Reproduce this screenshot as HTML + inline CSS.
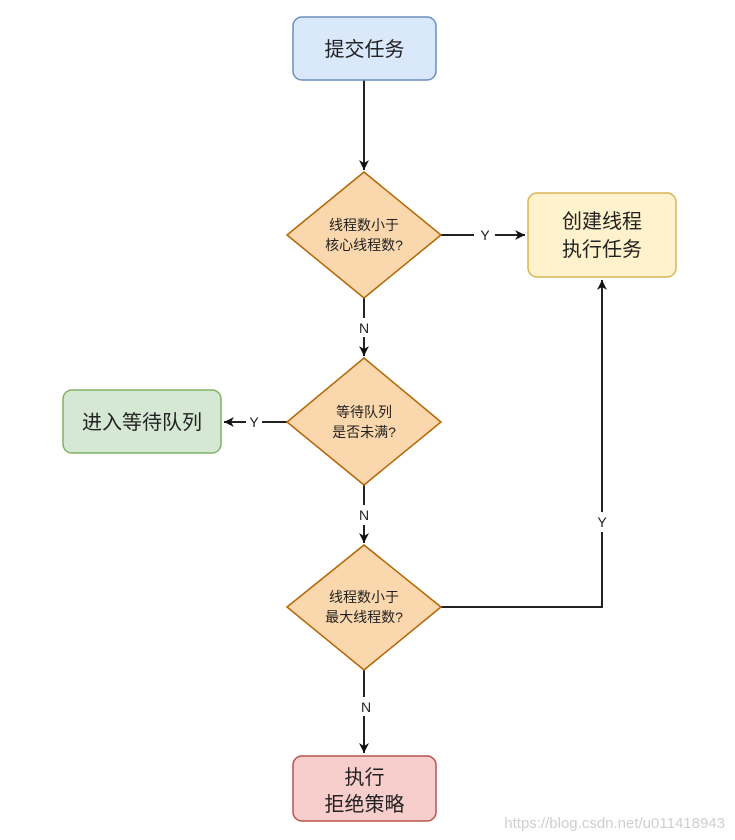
<!DOCTYPE html>
<html><head><meta charset="utf-8"><style>
html,body{margin:0;padding:0;background:#fff;}
svg{display:block;}
text{font-family:"Liberation Sans","Noto Sans CJK SC",sans-serif;fill:#222;}
</style></head><body>
<svg width="735" height="840" viewBox="0 0 735 840" xmlns="http://www.w3.org/2000/svg">
<defs>
<marker id="ah" markerWidth="12" markerHeight="12" refX="10" refY="6" orient="auto" markerUnits="userSpaceOnUse">
<path d="M0,1 L10,6 L0,11 L3,6 Z" fill="#111"/>
</marker>
</defs>
<g stroke="#222" stroke-width="2" fill="none">
<line x1="364" y1="80" x2="364" y2="170" marker-end="url(#ah)"/>
<line x1="441" y1="235" x2="474" y2="235"/>
<line x1="495" y1="235" x2="525" y2="235" marker-end="url(#ah)"/>
<line x1="364" y1="298" x2="364" y2="318"/>
<line x1="364" y1="337" x2="364" y2="356" marker-end="url(#ah)"/>
<line x1="287" y1="422" x2="262" y2="422"/>
<line x1="246" y1="422" x2="224" y2="422" marker-end="url(#ah)"/>
<line x1="364" y1="485" x2="364" y2="505"/>
<line x1="364" y1="525" x2="364" y2="543" marker-end="url(#ah)"/>
<polyline points="441,607 602,607 602,532"/>
<line x1="602" y1="512" x2="602" y2="280" marker-end="url(#ah)"/>
<line x1="364" y1="670" x2="364" y2="697"/>
<line x1="364" y1="716" x2="364" y2="753" marker-end="url(#ah)"/>
</g>
<g font-size="14">
<text x="485" y="240" text-anchor="middle">Y</text>
<text x="364" y="333" text-anchor="middle">N</text>
<text x="254" y="427" text-anchor="middle">Y</text>
<text x="364" y="520" text-anchor="middle">N</text>
<text x="602" y="527" text-anchor="middle">Y</text>
<text x="366" y="712" text-anchor="middle">N</text>
</g>
<rect x="293" y="17" width="143" height="63" rx="9" fill="#dae8fc" stroke="#6c8ebf" stroke-width="1.5"/>
<text x="364.5" y="56" font-size="20" text-anchor="middle">提交任务</text>
<polygon points="364,172 441,235 364,298 287,235" fill="#fad7ac" stroke="#b46504" stroke-width="1.5"/>
<text x="364" y="230" font-size="14" text-anchor="middle">线程数小于</text>
<text x="364" y="250" font-size="14" text-anchor="middle">核心线程数?</text>
<rect x="528" y="193" width="148" height="84" rx="9" fill="#fff2cc" stroke="#d6b656" stroke-width="1.5"/>
<text x="602" y="228" font-size="20" text-anchor="middle">创建线程</text>
<text x="602" y="256" font-size="20" text-anchor="middle">执行任务</text>
<polygon points="364,358 441,422 364,485 287,422" fill="#fad7ac" stroke="#b46504" stroke-width="1.5"/>
<text x="364" y="417" font-size="14" text-anchor="middle">等待队列</text>
<text x="364" y="437" font-size="14" text-anchor="middle">是否未满?</text>
<rect x="63" y="390" width="158" height="63" rx="9" fill="#d5e8d4" stroke="#82b366" stroke-width="1.5"/>
<text x="142" y="429" font-size="20" text-anchor="middle">进入等待队列</text>
<polygon points="364,545 441,607 364,670 287,607" fill="#fad7ac" stroke="#b46504" stroke-width="1.5"/>
<text x="364" y="602" font-size="14" text-anchor="middle">线程数小于</text>
<text x="364" y="622" font-size="14" text-anchor="middle">最大线程数?</text>
<rect x="293" y="756" width="143" height="65" rx="9" fill="#f8cecc" stroke="#b85450" stroke-width="1.5"/>
<text x="364.5" y="784" font-size="20" text-anchor="middle">执行</text>
<text x="364.5" y="811" font-size="20" text-anchor="middle">拒绝策略</text>
<text x="725" y="828" font-size="15" text-anchor="end" fill="#d0d0d0" style="fill:#cfcfcf">https://blog.csdn.net/u011418943</text>
</svg>
</body></html>
